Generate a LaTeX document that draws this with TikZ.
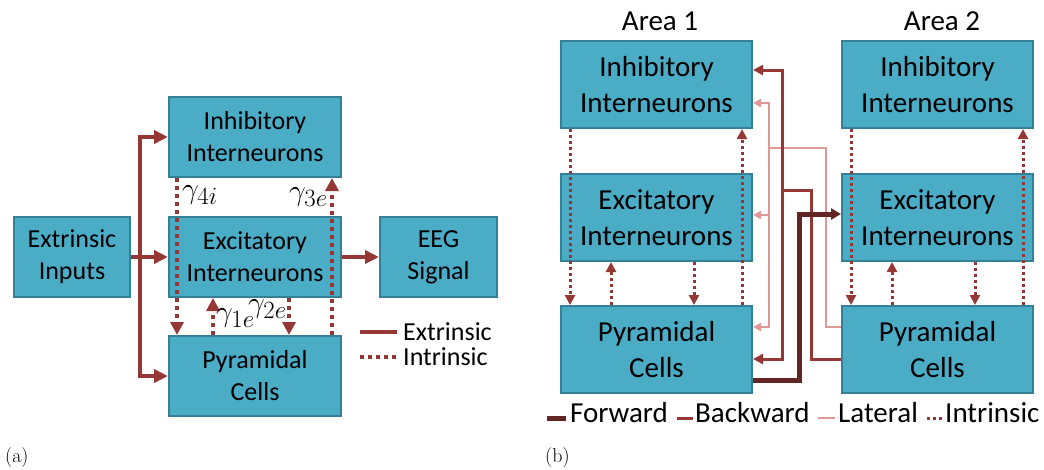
\documentclass[tikz,border=0pt]{standalone}
\usepackage{fontspec}
\usepackage{graphicx}
\newfontfamily\carl{Carlito}
\usetikzlibrary{arrows.meta,calc}
\definecolor{boxfill}{RGB}{75,172,198}
\definecolor{boxedge}{RGB}{52,128,150}
\definecolor{extred}{RGB}{149,55,53}
\definecolor{fwdred}{RGB}{99,37,35}
\definecolor{latpink}{RGB}{222,152,150}
\newcommand{\gm}[1]{\scalebox{1.2}{$\gamma_{#1}$}}
\begin{document}
\begin{tikzpicture}[x=1pt,y=-1pt,
  blk/.style={draw=boxedge, fill=boxfill, line width=2pt, inner sep=0pt, align=center},
  blka/.style={blk, minimum width=172pt, minimum height=80pt, font=\carl\fontsize{26}{32}\selectfont},
  blkb/.style={blk, minimum width=191pt, minimum height=87pt, font=\carl\fontsize{29}{36}\selectfont},
  extr/.style={draw=extred, line width=4pt, >={Triangle[length=14pt,width=13pt]}},
  intra/.style={draw=extred, line width=4pt, dash pattern=on 4pt off 4pt, >={Triangle[length=13pt,width=13pt]}},
  intrb/.style={draw=extred, line width=3pt, dash pattern=on 3pt off 3pt, >={Triangle[length=10pt,width=10pt]}},
  fwd/.style={draw=fwdred, line width=5pt, >={Triangle[length=10pt,width=11pt]}},
  bwd/.style={draw=extred, line width=3pt, >={Triangle[length=10pt,width=10pt]}},
  lat/.style={draw=latpink, line width=2pt, >={Triangle[length=8pt,width=8pt]}},
  gam/.style={inner sep=0pt, anchor=west, font=\fontsize{24.88}{30}\selectfont},
  lgda/.style={inner sep=0pt, anchor=west, font=\carl\fontsize{26}{32}\selectfont},
  lgdb/.style={inner sep=0pt, anchor=base west, font=\carl\fontsize{29}{36}\selectfont},
  subcap/.style={inner sep=0pt, anchor=base west, font=\fontsize{20}{24}\selectfont}]
\useasboundingbox (0,0) rectangle (1044,469);

% ---------- (a) single-source model ----------
\node[blka, minimum width=116pt] (ext) at (72,257) {Extrinsic\\Inputs};
\node[blka] (inh) at (255,137) {Inhibitory\\Interneurons};
\node[blka] (exc) at (255,257) {Excitatory\\Interneurons};
\node[blka] (pyr) at (255,376) {Pyramidal\\Cells};
\node[blka, minimum width=117pt] (eeg) at (438.5,257) {EEG\\Signal};

\coordinate (trunk) at (140,257);
\draw[extr,<->] (inh.west) -| (trunk) |- (pyr.west);
\draw[extr,->] (ext.east) -- (exc.west);
\draw[extr,->] (exc.east) -- (eeg.west);

\draw[intra,->] ([xshift=-78pt]inh.south) -- ([xshift=-78pt]pyr.north);
\draw[intra,->] ([xshift=77pt]pyr.north) -- ([xshift=77pt]inh.south);
\draw[intra,->] ([xshift=-42pt]pyr.north) -- ([xshift=-42pt]exc.south);
\draw[intra,->] ([xshift=34pt]exc.south) -- ([xshift=34pt]pyr.north);

\node[gam] (g4) at (182,195) {\gm{4i}};
\node[gam] (g3) at (289,197) {\gm{3e}};
\node[gam] (g1) at (216,318) {\gm{1e}};
\node[gam] (g2) at (248,309) {\gm{2e}};

\node[lgda] (lgE) at (403,332) {Extrinsic};
\node[lgda] (lgI) at (403,357) {Intrinsic};
\draw[extr] ([xshift=-43pt]lgE.west) -- ([xshift=-6pt]lgE.west);
\draw[intra] ([xshift=-43pt]lgI.west) -- ([xshift=-6pt]lgI.west);

\node[subcap] (capa) at (5,462) {(a)};

% ---------- (b) two-area model ----------
\node[lgdb, anchor=base] (ar1) at (660,30) {Area 1};
\node[lgdb, anchor=base] (ar2) at (942,30) {Area 2};

\node[blkb] (inh1) at (656.5,84.5) {Inhibitory\\Interneurons};
\node[blkb] (exc1) at (656.5,217.5) {Excitatory\\Interneurons};
\node[blkb] (pyr1) at (656.5,349.5) {Pyramidal\\Cells};
\node[blkb] (inh2) at (937.5,84.5) {Inhibitory\\Interneurons};
\node[blkb] (exc2) at (937.5,217.5) {Excitatory\\Interneurons};
\node[blkb] (pyr2) at (937.5,349.5) {Pyramidal\\Cells};

% intrinsic links inside each area
\foreach \a in {1,2}{
  \draw[intrb,->] ([xshift=-86.5pt]inh\a.south) -- ([xshift=-86.5pt]pyr\a.north);
  \draw[intrb,->] ([xshift=85.5pt]pyr\a.north) -- ([xshift=85.5pt]inh\a.south);
  \draw[intrb,->] ([xshift=-45.5pt]pyr\a.north) -- ([xshift=-45.5pt]exc\a.south);
  \draw[intrb,->] ([xshift=37.5pt]exc\a.south) -- ([xshift=37.5pt]pyr\a.north);
}

% lateral connections (area 2 -> area 1)
\coordinate (lattrunk) at (769,148);
\coordinate (latfeed) at (826,148);
\coordinate (latexc) at ([yshift=2.5pt]exc1.east);
\draw[lat,<->] ([yshift=-18.5pt]inh1.east) -| (lattrunk) |- ([yshift=22.5pt]pyr1.east);
\draw[lat,<-] (latexc) -- (lattrunk |- latexc);
\draw[lat] ([yshift=22.5pt]pyr2.west) -| (latfeed) -- (lattrunk);

% backward connections (area 2 -> area 1)
\coordinate (bwdtrunk) at (782,190);
\coordinate (bwdfeed) at (811,190);
\draw[bwd,<->] ([yshift=14.5pt]inh1.east) -| (bwdtrunk) |- ([yshift=-9.5pt]pyr1.east);
\draw[bwd] ([yshift=-9.5pt]pyr2.west) -| (bwdfeed) -- (bwdtrunk);

% forward connection (area 1 -> area 2)
\coordinate (fwdcorner) at (799,214);
\draw[fwd,->] ([yshift=-30.5pt]pyr1.east) -| (fwdcorner) -- ([yshift=3.5pt]exc2.west);

% legend
\node[lgdb] (lgF) at (570,422) {Forward};
\node[lgdb] (lgB) at (695,422) {Backward};
\node[lgdb] (lgL) at (838,422) {Lateral};
\node[lgdb] (lgN) at (945,422) {Intrinsic};
\draw[fwd] ([xshift=-23pt,yshift=4pt]lgF.base west) -- ([xshift=-4pt,yshift=4pt]lgF.base west);
\draw[bwd] ([xshift=-18pt,yshift=4pt]lgB.base west) -- ([xshift=-2pt,yshift=4pt]lgB.base west);
\draw[lat] ([xshift=-20pt,yshift=4pt]lgL.base west) -- ([xshift=-3pt,yshift=4pt]lgL.base west);
\draw[intrb] ([xshift=-18pt,yshift=4pt]lgN.base west) -- ([xshift=-1pt,yshift=4pt]lgN.base west);

\node[subcap] (capb) at (545,462) {(b)};
\end{tikzpicture}
\end{document}
